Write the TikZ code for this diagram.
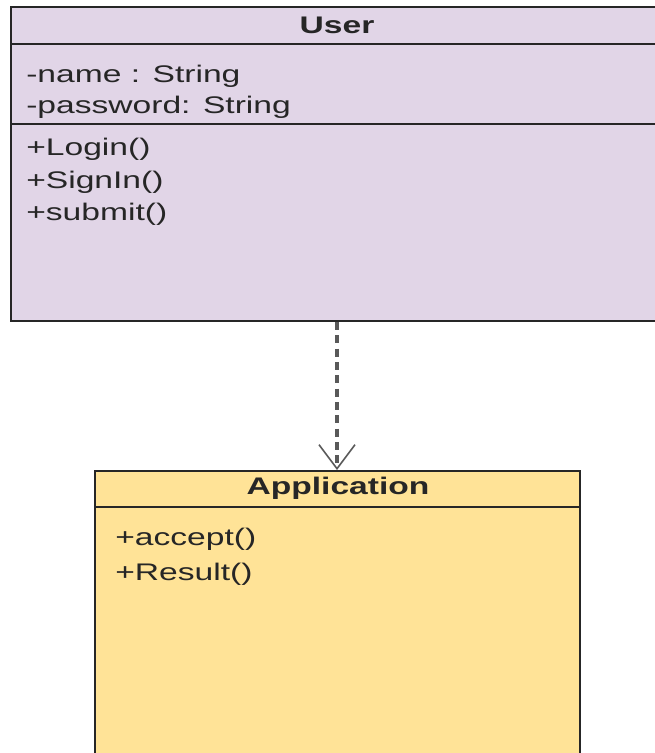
\documentclass[tikz,border=0pt]{standalone}
\usepackage{fontspec}
\setmainfont{Liberation Sans}
\usepackage{graphicx}
\usetikzlibrary{arrows.meta}
\definecolor{userfill}{HTML}{E1D5E7}
\definecolor{appfill}{HTML}{FFE397}
\definecolor{edge}{HTML}{262626}
\newcommand{\wide}[1]{\scalebox{1.4}[1]{#1}}

\begin{document}
\begin{tikzpicture}[
    x=0.75pt, y=-0.75pt,
    box/.style={draw=edge, line width=1.5pt, inner sep=0pt},
    sep/.style={edge, line width=1.5pt},
    title/.style={anchor=base, inner sep=0pt, text=black!85,
                  font=\fontsize{18}{22}\selectfont\bfseries},
    member/.style={anchor=base west, inner sep=0pt, text=black!85,
                   font=\fontsize{18}{22}\selectfont},
    depend/.style={draw=black!65, line width=2.4pt, dash pattern=on 6pt off 4pt,
                   -{Straight Barb[length=18pt, width=27pt, line width=1.2pt]}},
]
\useasboundingbox (0,0) rectangle (654,753);

% =========================================================
% USER CLASS (right border lies past the page edge)
% =========================================================
\node[box, fill=userfill, minimum width=489pt, minimum height=235.5pt]
      (user) at (337,164) {};
\draw[sep] (11,43.5) -- (663,43.5);
\draw[sep] (11,124) -- (663,124);

\node[title] (usertitle) at (337,33) {\wide{User}};
\node[member] (uname) at (26,82)  {\wide{-name : String}};
\node[member] (upass) at (26,113) {\wide{-password: String}};
\node[member] (ulogin)  at (26,155) {\wide{+Login()}};
\node[member] (usignin) at (26,188) {\wide{+SignIn()}};
\node[member] (usubmit) at (26,220) {\wide{+submit()}};

% =========================================================
% APPLICATION CLASS (bottom border lies past the page edge)
% =========================================================
\node[box, fill=appfill, minimum width=363.75pt, minimum height=224.25pt]
      (app) at (337,620.5) {};
\draw[sep] (95,507) -- (580,507);

\node[title] (apptitle) at (338,494) {\wide{Application}};
\node[member] (aaccept) at (115,545) {\wide{+accept()}};
\node[member] (aresult) at (115,580) {\wide{+Result()}};

% dependency: User uses Application
\draw[depend] (user.south) -- (app.north);

\end{tikzpicture}
\end{document}
